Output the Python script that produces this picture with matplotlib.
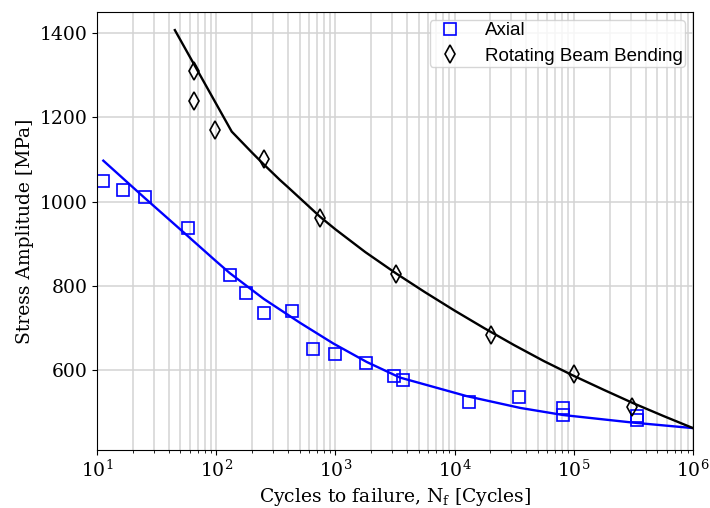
import matplotlib
matplotlib.use("Agg")
from matplotlib import pyplot as plt

# measured data
axial_n = [11.2, 16.5, 25.3, 58, 130, 178, 251, 432, 646, 993, 1807, 3100, 3690,
           13200, 34700, 81000, 81000, 337000, 337000]
axial_s = [1048, 1027, 1011, 937, 825, 783, 735, 740, 650, 638, 617, 586, 576,
           524, 536, 510, 492, 491, 481]

bend_n = [65, 65, 98, 251, 742, 3240, 20200, 100000, 310000]
bend_s = [1310, 1239, 1170, 1101, 961, 828, 683, 590, 512]

# fitted curves
axial_fit_n = [11.3, 25, 52.7, 100, 130, 250, 505, 959, 1832, 3480, 12600,
               35400, 81600, 315000, 1e6]
axial_fit_s = [1097, 1009, 928, 858, 830, 769, 712, 663, 619, 582, 538,
               510, 493, 475, 462]

bend_fit_n = [45, 135, 200, 251, 343, 400, 560, 742, 1000, 1780, 3240, 5620,
              10000, 17800, 31600, 56200, 100000, 178000, 316000, 562000, 1e6]
bend_fit_s = [1407, 1166, 1116, 1088, 1051, 1034, 996, 964, 934, 880, 829, 785,
              741, 699, 659, 621, 586, 553, 521, 491, 462]

plt.rcParams["font.family"] = "DejaVu Serif"
plt.rcParams["font.size"] = 13.5

fig = plt.figure(figsize=(7.1, 5.08), dpi=100)
ax = fig.add_axes([97 / 710, 1 - 450 / 508, 596 / 710, 438 / 508])

ax.plot(axial_fit_n, axial_fit_s, color="blue", lw=1.7)
ax.plot(bend_fit_n, bend_fit_s, color="black", lw=1.7)
ax.plot(axial_n, axial_s, "s", mfc="none", mec="blue", ms=8.5, mew=1.2,
        label="Axial")
ax.plot(bend_n, bend_s, "d", mfc="none", mec="black", ms=9, mew=1.2,
        label="Rotating Beam Bending")

ax.set_xscale("log")
ax.set_xlim(10, 1e6)
ax.set_ylim(410, 1450)
ax.set_yticks([600, 800, 1000, 1200, 1400])
ax.grid(True, which="both", axis="x", color="lightgray", lw=1.1)
ax.grid(True, which="major", axis="y", color="lightgray", lw=1.1)
ax.set_axisbelow(True)

ax.set_xlabel(r"Cycles to failure, N$_\mathregular{f}$ [Cycles]")
ax.set_ylabel("Stress Amplitude [MPa]")

ax.legend(loc="upper right", prop={"family": "Liberation Sans", "size": 13.5},
          borderpad=0.1, labelspacing=0.45, borderaxespad=0.45,
          handletextpad=0.85)

fig.savefig("out.png", dpi=100)
